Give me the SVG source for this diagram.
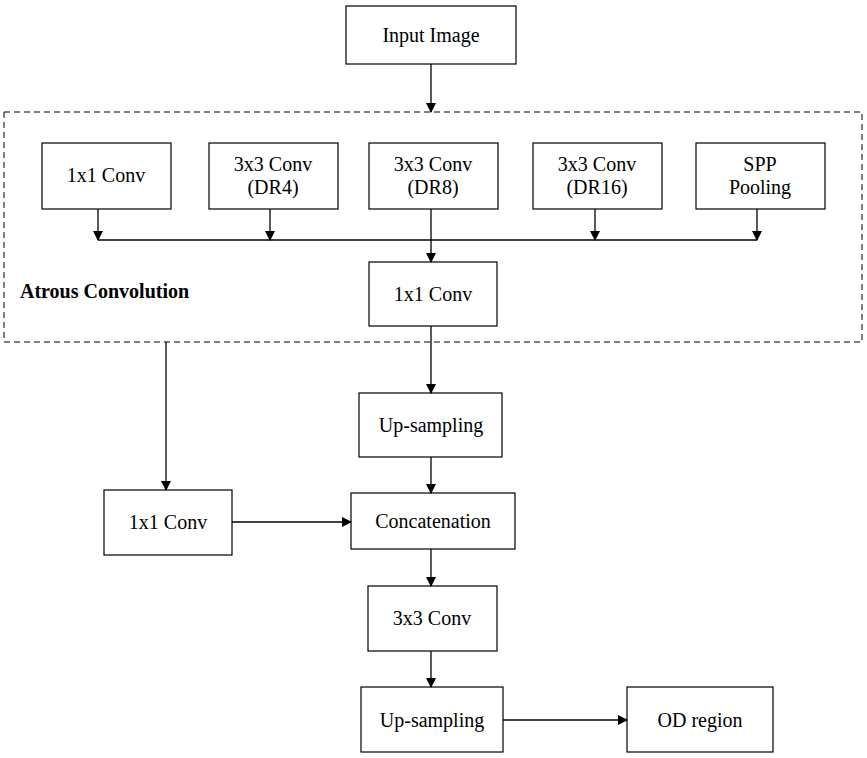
<svg xmlns="http://www.w3.org/2000/svg" width="867" height="758" viewBox="0 0 867 758">
<style>
.b{fill:#fff;stroke:#000;stroke-width:1.2}
text{font-family:"Liberation Serif","Times New Roman",serif;font-size:20px;text-anchor:middle;fill:#000}
.c{stroke:#000;stroke-width:1.3;fill:none}
</style>
<defs><marker id="a" markerWidth="10" markerHeight="10" refX="9" refY="5" orient="auto" markerUnits="userSpaceOnUse"><path d="M0,0L10,5L0,10z" fill="#000"/></marker></defs>
<rect width="867" height="758" fill="#fff"/>
<rect x="4" y="112" width="858" height="230" fill="none" stroke="#000" stroke-width="1" stroke-dasharray="6,4"/>
<text x="20" y="298" style="text-anchor:start;font-weight:bold">Atrous Convolution</text>
<g id="input"><rect class="b" x="346" y="6" width="170" height="58"/><text x="431" y="42">Input Image</text></g>
<g id="c1"><rect class="b" x="42" y="143" width="129" height="66"/><text x="106" y="182">1x1 Conv</text></g>
<g id="c2"><rect class="b" x="209" y="143" width="129" height="66"/><text x="273" y="171">3x3 Conv</text><text x="273" y="194">(DR4)</text></g>
<g id="c3"><rect class="b" x="369" y="143" width="129" height="66"/><text x="433" y="171">3x3 Conv</text><text x="433" y="194">(DR8)</text></g>
<g id="c4"><rect class="b" x="533" y="143" width="129" height="66"/><text x="597" y="171">3x3 Conv</text><text x="597" y="194">(DR16)</text></g>
<g id="spp"><rect class="b" x="696" y="143" width="129" height="66"/><text x="760" y="171">SPP</text><text x="760" y="194">Pooling</text></g>
<g id="c5"><rect class="b" x="369" y="262" width="128" height="64"/><text x="433" y="301">1x1 Conv</text></g>
<g id="up1"><rect class="b" x="359" y="393" width="143" height="64"/><text x="431" y="432">Up-sampling</text></g>
<g id="c6"><rect class="b" x="104" y="490" width="128" height="65"/><text x="168" y="529">1x1 Conv</text></g>
<g id="cat"><rect class="b" x="351" y="493" width="164" height="56"/><text x="433" y="528">Concatenation</text></g>
<g id="c7"><rect class="b" x="368" y="586" width="129" height="65"/><text x="432" y="625">3x3 Conv</text></g>
<g id="up2"><rect class="b" x="361" y="687" width="142" height="65"/><text x="432" y="727">Up-sampling</text></g>
<g id="od"><rect class="b" x="627" y="687" width="146" height="65"/><text x="700" y="727">OD region</text></g>
<g id="connectors">
<path class="c" d="M431,64V112" marker-end="url(#a)"/>
<path class="c" d="M98,240H757"/>
<path class="c" d="M98,209V240" marker-end="url(#a)"/>
<path class="c" d="M270,209V240" marker-end="url(#a)"/>
<path class="c" d="M595,209V240" marker-end="url(#a)"/>
<path class="c" d="M757,209V240" marker-end="url(#a)"/>
<path class="c" d="M431,209V262" marker-end="url(#a)"/>
<path class="c" d="M431,326V393" marker-end="url(#a)"/>
<path class="c" d="M166,342V490" marker-end="url(#a)"/>
<path class="c" d="M431,457V493" marker-end="url(#a)"/>
<path class="c" d="M232,522H351" marker-end="url(#a)"/>
<path class="c" d="M431,549V586" marker-end="url(#a)"/>
<path class="c" d="M431,651V687" marker-end="url(#a)"/>
<path class="c" d="M503,720H627" marker-end="url(#a)"/>
</g>
</svg>
